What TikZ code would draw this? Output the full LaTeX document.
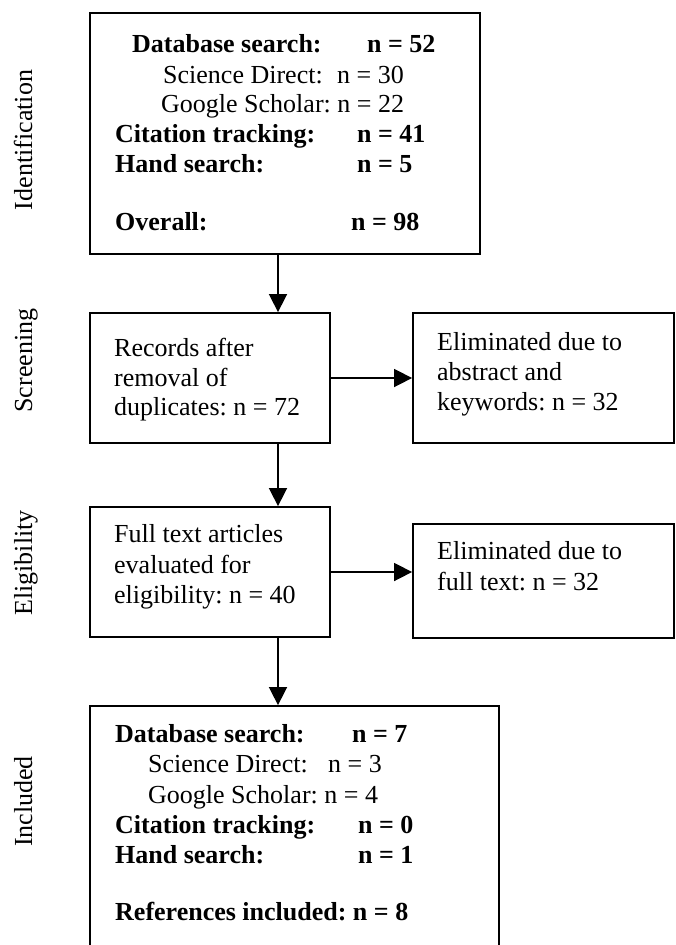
\documentclass[tikz,border=0pt]{standalone}
\usepackage{fontspec}
\setmainfont{Liberation Serif}
\usetikzlibrary{arrows.meta}
\frenchspacing
\begin{document}
\begin{tikzpicture}[x=1pt,y=-1pt,
  box/.style={draw=black, line width=1.8pt, inner sep=0pt},
  arr/.style={line width=1.6pt, -{Triangle[length=18pt,width=18pt]}},
  tx/.style={inner sep=0pt, anchor=base west, font=\fontsize{26}{30}\selectfont},
  bx/.style={inner sep=0pt, anchor=base west, font=\fontsize{26}{30}\selectfont\bfseries},
  side/.style={inner sep=0pt, rotate=90, anchor=base, font=\fontsize{26}{30}\selectfont}]
\useasboundingbox (0,0) rectangle (676,945);
% boxes
\node[box, minimum width=390pt, minimum height=241pt] (b1) at (285,133.5) {};
\node[box, minimum width=240pt, minimum height=130pt] (b2) at (210,378) {};
\node[box, minimum width=261pt, minimum height=130pt] (b3) at (543.5,378) {};
\node[box, minimum width=240pt, minimum height=130pt] (b4) at (210,572) {};
\node[box, minimum width=261pt, minimum height=114pt] (b5) at (543.5,581) {};
\node[box, minimum width=409pt, minimum height=250pt] (b6) at (294.5,831) {};
% connectors
\coordinate (ax) at (278,0);
\draw[arr] (b1.south -| ax) -- (b2.north -| ax);
\draw[arr] (b2.south -| ax) -- (b4.north -| ax);
\draw[arr] (b4.south -| ax) -- (b6.north -| ax);
\draw[arr] (b2.east) -- (b3.west);
\draw[arr] (b4.east) -- (b4.east -| b5.west);
% side labels
\node[side] (s1) at (32,140) {Identification};
\node[side] (s2) at (32,360.5) {Screening};
\node[side] (s3) at (32,563) {Eligibility};
\node[side] (s4) at (32,801.5) {Included};
% box 1
\node[bx] (t1a) at (132,52) {Database search:};
\node[bx] (t1b) at (367,52) {n = 52};
\node[tx] (t1c) at (163,83) {Science Direct:};
\node[tx] (t1d) at (337,83) {n = 30};
\node[tx] (t1e) at (161,112.5) {Google Scholar: n = 22};
\node[bx] (t1f) at (115,142) {Citation tracking:};
\node[bx] (t1g) at (357,142) {n = 41};
\node[bx] (t1h) at (115,172) {Hand search:};
\node[bx] (t1i) at (357,172) {n = 5};
\node[bx] (t1j) at (115,230.5) {Overall:};
\node[bx] (t1k) at (351,230.5) {n = 98};
% box 2
\node[tx] (t2a) at (114,356.5) {Records after};
\node[tx] (t2b) at (114,386) {removal of};
\node[tx] (t2c) at (114,415) {duplicates: n = 72};
% box 3
\node[tx] (t3a) at (437,350) {Eliminated due to};
\node[tx] (t3b) at (437,380.5) {abstract and};
\node[tx] (t3c) at (437,410.5) {keywords: n = 32};
% box 4
\node[tx] (t4a) at (114,542.5) {Full text articles};
\node[tx] (t4b) at (114,573) {evaluated for};
\node[tx] (t4c) at (114,603) {eligibility: n = 40};
% box 5
\node[tx] (t5a) at (437,559.5) {Eliminated due to};
\node[tx] (t5b) at (437,590) {full text: n = 32};
% box 6
\node[bx] (t6a) at (115,742) {Database search:};
\node[bx] (t6b) at (352,742) {n = 7};
\node[tx] (t6c) at (148,772.5) {Science Direct:};
\node[tx] (t6d) at (328,772.5) {n = 3};
\node[tx] (t6e) at (148,803) {Google Scholar: n = 4};
\node[bx] (t6f) at (115,833) {Citation tracking:};
\node[bx] (t6g) at (358,833) {n = 0};
\node[bx] (t6h) at (115,863) {Hand search:};
\node[bx] (t6i) at (358,863) {n = 1};
\node[bx] (t6j) at (115,920.5) {References included: n = 8};
\end{tikzpicture}
\end{document}
